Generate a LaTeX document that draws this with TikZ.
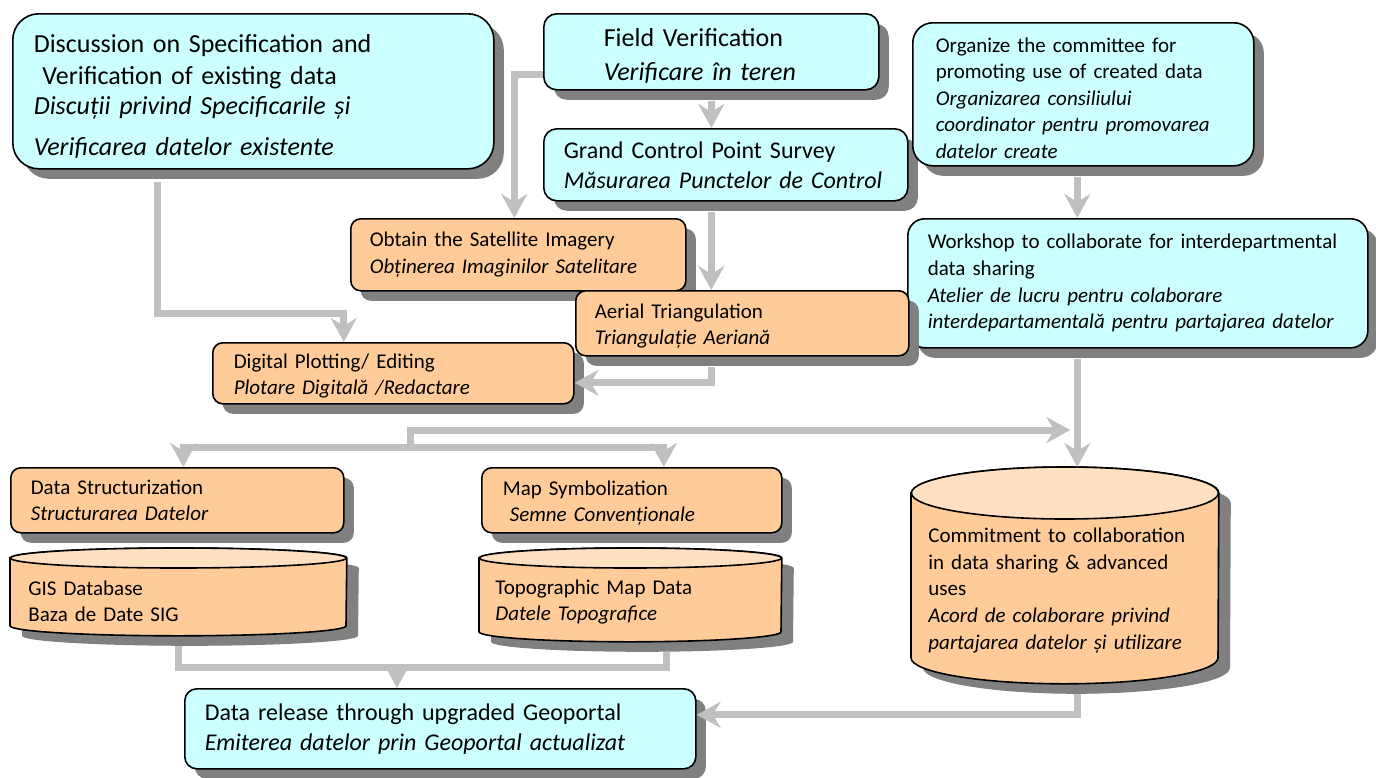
\documentclass[tikz,border=0pt]{standalone}
\usepackage{fontspec}
\setmainfont{Carlito}
\usetikzlibrary{positioning,shadows,arrows.meta,backgrounds}
\definecolor{boxcyan}{HTML}{CCFFFF}
\definecolor{boxorange}{HTML}{FFCC99}
\definecolor{cyltop}{HTML}{FFE0C0}
\definecolor{shadegray}{HTML}{808080}
\definecolor{flowgray}{HTML}{C0C0C0}
\newcommand{\discfont}{\fontsize{13}{16}\selectfont}
\newcommand{\fieldfont}{\fontsize{13}{17}\selectfont}
\newcommand{\bigfont}{\fontsize{12}{15}\selectfont}
\newcommand{\smallfont}{\fontsize{10.5}{13.3}\selectfont}
\newcommand{\lift}[1]{\rule{0pt}{#1}}
% cylinder outline round a data node: #1 node, #2 x radius, #3 y radius
\newcommand{\cylshape}[3]{%
  \fill[shadegray, transform canvas={shift={(6pt,-5pt)}}] ([yshift=-#3]#1.north west) -- ([yshift=#3]#1.south west)
     arc[start angle=180, end angle=360, x radius=#2, y radius=#3] -- ([yshift=-#3]#1.north east)
     arc[start angle=0, end angle=180, x radius=#2, y radius=#3] -- cycle;
  \draw[line width=0.8pt, fill=boxorange] ([yshift=-#3]#1.north west) -- ([yshift=#3]#1.south west)
     arc[start angle=180, end angle=360, x radius=#2, y radius=#3] -- ([yshift=-#3]#1.north east)
     arc[start angle=0, end angle=180, x radius=#2, y radius=#3] -- cycle;
  \draw[line width=0.8pt, fill=cyltop] ([yshift=-#3]#1.north) ellipse [x radius=#2, y radius=#3];
}
\tikzstyle{cyanbox}=[rectangle, rounded corners=8pt, draw=black, line width=0.8pt, fill=boxcyan, anchor=north west,
align=left, inner ysep=2pt, font=\smallfont, drop shadow={shadow xshift=5pt, shadow yshift=-5pt, fill=shadegray, opacity=1}]
\tikzstyle{orangebox}=[cyanbox, rounded corners=5pt, fill=boxorange]
\tikzstyle{datacyl}=[rectangle, anchor=north west, inner sep=1pt, align=left, font=\smallfont]
\tikzstyle{gline}=[-, line width=3.5pt, flowgray]
\tikzstyle{garrow}=[gline, -{Stealth[length=12pt, width=13pt, inset=4pt]}]

\begin{document}
\begin{tikzpicture}[x=0.5pt, y=-0.5pt]
    \useasboundingbox (0,0) rectangle (1376,777);

% top row
    \node (disc) [cyanbox, rounded corners=13pt, font=\discfont, minimum width=240.5pt, minimum height=77.5pt, inner xsep=10.5pt, text width=219.5pt] at (12,13)
    {\lift{14pt}Discussion on Specification and\\ \ Verification of existing data\\[-1pt] \textit{Discuții privind Specificarile și}\\[4.5pt] \textit{Verificarea datelor existente}};
    \node (field) [cyanbox, rounded corners=6.5pt, font=\fieldfont, minimum width=167.5pt, minimum height=38pt, inner xsep=30pt, text width=107.5pt] at (543,13)
    {\lift{13.5pt}Field Verification\\ \textit{Verificare în teren}};
    \node (grand) [cyanbox, rounded corners=6.5pt, font=\bigfont, minimum width=182pt, minimum height=36pt, inner xsep=10pt, text width=162pt] at (543,128)
    {Grand Control Point Survey\\ \textit{Măsurarea Punctelor de Control}};
    \node (organize) [cyanbox, rounded corners=10pt, minimum width=170.5pt, minimum height=71.5pt, inner xsep=11.5pt, text width=147.5pt] at (912,22)
    {\lift{11pt}Organize the committee for\\ promoting use of created data\\ \textit{Organizarea consiliului}\\ \textit{coordinator pentru promovarea}\\ \textit{datelor create}};

% processing
    \node (obtain) [orangebox, minimum width=167.5pt, minimum height=36pt, inner xsep=9.5pt, text width=148.5pt] at (350,218)
    {Obtain the Satellite Imagery\\ \textit{Obținerea Imaginilor Satelitare}};
    \node (workshop) [cyanbox, rounded corners=8.5pt, minimum width=230pt, minimum height=64.5pt, inner xsep=10pt, text width=210pt] at (907,218)
    {Workshop to collaborate for interdepartmental\\ data sharing\\ \textit{Atelier de lucru pentru colaborare}\\ \textit{interdepartamentală pentru partajarea datelor}};
    \node (aerial) [orangebox, minimum width=166.5pt, minimum height=32.5pt, inner xsep=9.5pt, text width=147.5pt] at (575,290)
    {\lift{10pt}Aerial Triangulation\\ \textit{Triangulație Aeriană}};
    \node (digital) [orangebox, minimum width=180.5pt, minimum height=30.5pt, inner xsep=10.5pt, text width=159.5pt] at (212,342)
    {\lift{10pt}Digital Plotting/ Editing\\ \textit{Plotare Digitală /Redactare}};

% products
    \node (struct) [orangebox, minimum width=166.5pt, minimum height=32.5pt, inner xsep=10pt, text width=146.5pt] at (10,467)
    {Data Structurization\\ \textit{Structurarea Datelor}};
    \node (mapsym) [orangebox, minimum width=150pt, minimum height=32.5pt, inner xsep=10.5pt, text width=129pt] at (481,467)
    {\lift{10pt}Map Symbolization\\ \ \textit{Semne Convenționale}};
    \node (gis) [datacyl, minimum width=168pt, minimum height=43.5pt, text width=150pt] at (10,548)
    {\lift{16.5pt}GIS Database\\ Baza de Date SIG};
    \node (topo) [datacyl, minimum width=151pt, minimum height=46.5pt, text width=135pt] at (479,548)
    {\lift{14.5pt}Topographic Map Data\\ \textit{Datele Topografice}};
    \node (commit) [datacyl, minimum width=153.5pt, minimum height=108pt, text width=136.5pt] at (911,467)
    {\lift{22.5pt}Commitment to collaboration\\ in data sharing \& advanced\\ uses\\ \textit{Acord de colaborare privind}\\ \textit{partajarea datelor și utilizare}};
    \node (release) [cyanbox, rounded corners=6pt, font=\bigfont, minimum width=255.5pt, minimum height=40pt, inner xsep=10pt, text width=235.5pt] at (184,688)
    {Data release through upgraded Geoportal\\ \textit{Emiterea datelor prin Geoportal actualizat}};

    \begin{scope}[on background layer]
        \cylshape{gis}{84pt}{5pt}
        \cylshape{topo}{75.5pt}{5pt}
        \cylshape{commit}{76.75pt}{13pt}
    \end{scope}

    \coordinate (spine) at ([xshift=-3pt]organize.south);
    \coordinate (split) at (410,430);
    \coordinate (fork) at (410,447);
    \coordinate (merge) at (397,667);

% connectors
    \draw[garrow, shorten <=6pt] ([xshift=-48pt]disc.south) -- ++(0,-72pt) -| ([xshift=-24.75pt]digital.north);
    \draw[garrow] ([yshift=-11.5pt]field.west) -| ([xshift=-2pt]obtain.north);
    \draw[garrow, shorten <=5pt] (field.south) -- (field.south |- grand.north);
    \draw[garrow, shorten <=5pt] (field.south |- grand.south) -- (field.south |- aerial.north);
    \draw[garrow, shorten <=5pt] (field.south |- aerial.south) |- ([yshift=-4.75pt]digital.east);
    \draw[garrow, shorten <=5pt] (spine) -- (spine |- workshop.north);
    \draw[garrow, shorten <=5pt] (spine |- workshop.south) -- (spine |- commit.north);
    \draw[garrow, shorten >=3.5pt] (fork) -- (split) -- (split -| spine);
    \draw[garrow] (fork) -| ([xshift=3pt]struct.north);
    \draw[garrow] (fork) -| ([xshift=16pt]mapsym.north);
    \draw[gline, shorten <=5pt, shorten >=5pt] (gis.south) |- (merge) -| ([xshift=18pt]topo.south);
    \draw[garrow] (merge) -- (merge |- release.north);
    \draw[garrow, shorten <=5pt] (spine |- commit.south) |- ([yshift=7pt]release.east);

\end{tikzpicture}
\end{document}
